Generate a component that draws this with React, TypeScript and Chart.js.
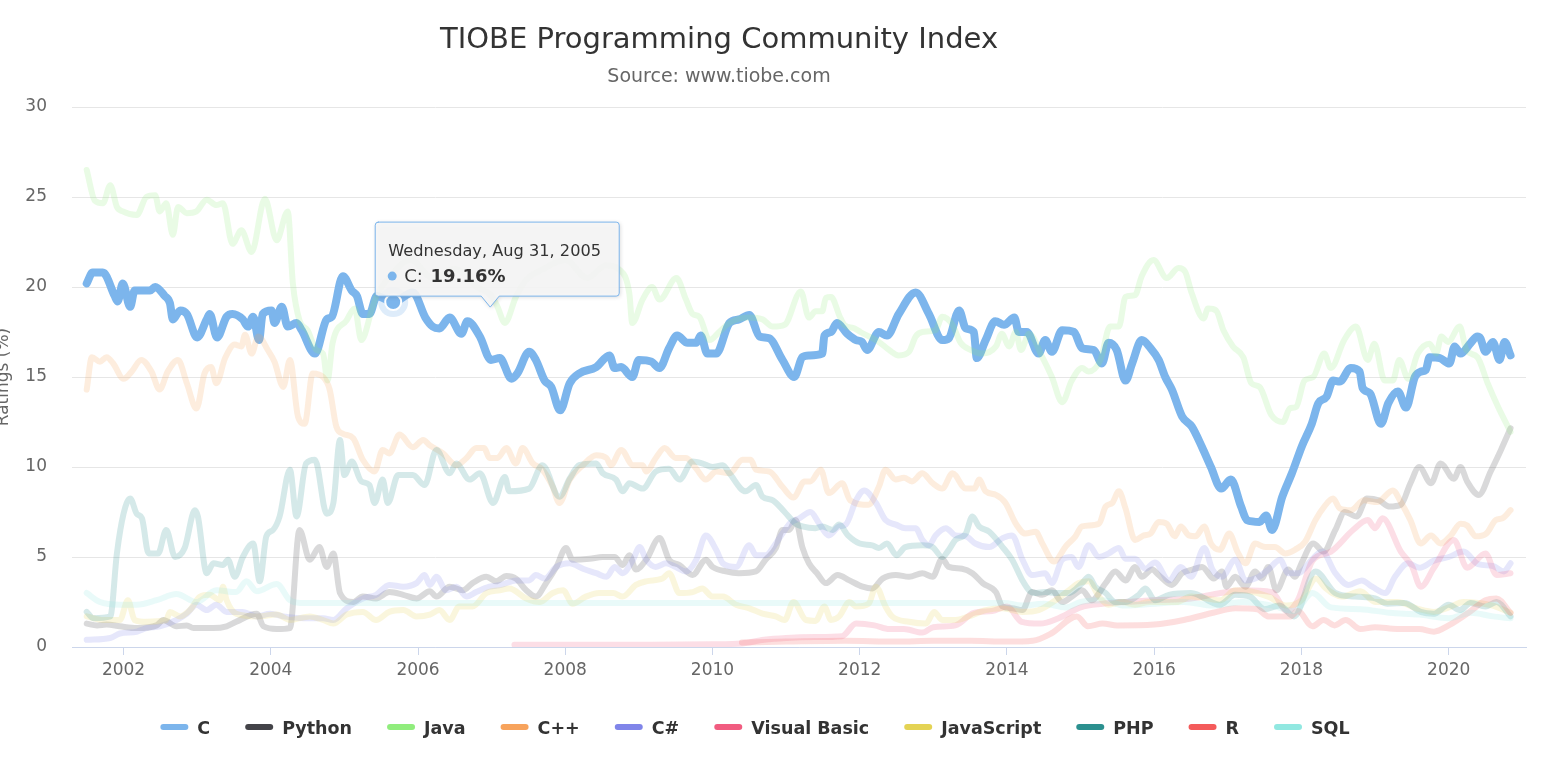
import React, { useEffect, useRef } from 'react';
import { Chart, registerables } from 'chart.js';

Chart.register(...registerables);

const FONT = '"DejaVu Sans", "Liberation Sans", sans-serif';

const chartTitle = 'TIOBE Programming Community Index';
const chartSubtitle = 'Source: www.tiobe.com';
const yAxisTitle = 'Ratings (%)';
const xTickYears = [2002, 2004, 2006, 2008, 2010, 2012, 2014, 2016, 2018, 2020];
const yMin = 0;
const yMax = 30;
const yStep = 5;

const seriesNames = ['C', 'Python', 'Java', 'C++', 'C#', 'Visual Basic', 'JavaScript', 'PHP', 'R', 'SQL'];
const seriesColors = ['#7cb5ec', '#434348', '#90ed7d', '#f7a35c', '#8085e9', '#f15c80', '#e4d354', '#2b908f', '#f45b5b', '#91e8e1'];

const tooltipDate = 'Wednesday, Aug 31, 2005';
const tooltipYear = 2005.663;
const tooltipValue = 19.16;

const cPoints: [number, number][] = [
  [2001.50, 20.2], [2001.58, 20.8], [2001.72, 20.8], [2001.88, 19.5], [2001.92, 19.2], [2001.99, 20.2],
  [2002.09, 18.9], [2002.15, 19.8], [2002.36, 19.8], [2002.43, 20.0], [2002.56, 19.5], [2002.63, 19.1],
  [2002.67, 18.2], [2002.77, 18.7], [2002.86, 18.5], [2003.00, 17.2], [2003.13, 18.2], [2003.17, 18.5],
  [2003.27, 17.2], [2003.40, 18.35], [2003.48, 18.5], [2003.62, 18.2], [2003.69, 17.8], [2003.76, 18.35],
  [2003.84, 17.05], [2003.89, 18.5], [2004.01, 18.7], [2004.05, 18.0], [2004.15, 18.9], [2004.23, 17.8],
  [2004.35, 18.0], [2004.42, 17.6], [2004.60, 16.3], [2004.76, 18.2], [2004.83, 18.35], [2004.98, 20.6],
  [2005.10, 19.8], [2005.17, 19.5], [2005.25, 18.5], [2005.34, 18.5], [2005.44, 19.5], [2005.663, 19.16],
  [2005.93, 19.7], [2006.10, 18.3], [2006.20, 17.8], [2006.29, 17.7], [2006.43, 18.3], [2006.59, 17.4],
  [2006.67, 18.1], [2006.84, 17.25], [2006.99, 15.95], [2007.11, 16.05], [2007.27, 14.9], [2007.35, 15.2],
  [2007.51, 16.4], [2007.60, 15.95], [2007.72, 14.8], [2007.81, 14.45], [2007.93, 13.15], [2008.06, 14.65],
  [2008.19, 15.2], [2008.42, 15.55], [2008.60, 16.2], [2008.67, 15.5], [2008.76, 15.55], [2008.91, 15.0],
  [2009.00, 15.95], [2009.17, 15.85], [2009.28, 15.5], [2009.41, 16.6], [2009.52, 17.3], [2009.66, 16.9],
  [2009.78, 16.9], [2009.84, 17.3], [2009.93, 16.3], [2010.05, 16.3], [2010.23, 18.0], [2010.36, 18.2],
  [2010.50, 18.45], [2010.64, 17.25], [2010.77, 17.15], [2010.95, 15.95], [2011.11, 15.0], [2011.22, 16.1],
  [2011.31, 16.2], [2011.49, 16.3], [2011.52, 17.3], [2011.61, 17.5], [2011.69, 18.0], [2011.83, 17.4],
  [2011.95, 17.05], [2012.03, 16.95], [2012.10, 16.5], [2012.26, 17.5], [2012.37, 17.3], [2012.53, 18.5],
  [2012.76, 19.7], [2012.94, 18.5], [2013.12, 17.05], [2013.21, 17.15], [2013.35, 18.7], [2013.44, 17.7],
  [2013.55, 17.5], [2013.59, 16.05], [2013.71, 17.05], [2013.84, 18.1], [2013.96, 17.9], [2014.10, 18.3],
  [2014.16, 17.5], [2014.27, 17.5], [2014.43, 16.3], [2014.52, 17.05], [2014.61, 16.4], [2014.75, 17.6],
  [2014.91, 17.5], [2015.02, 16.6], [2015.18, 16.5], [2015.29, 15.75], [2015.38, 16.9], [2015.49, 16.5],
  [2015.61, 14.8], [2015.70, 15.75], [2015.83, 17.05], [2015.95, 16.6], [2016.06, 15.95], [2016.15, 15.0],
  [2016.24, 14.3], [2016.38, 12.8], [2016.51, 12.25], [2016.65, 11.1], [2016.77, 10.0], [2016.91, 8.8],
  [2017.04, 9.3], [2017.18, 7.8], [2017.26, 7.05], [2017.43, 6.95], [2017.52, 7.3], [2017.60, 6.5],
  [2017.74, 8.35], [2017.87, 9.65], [2018.01, 11.2], [2018.14, 12.4], [2018.23, 13.55], [2018.34, 13.9],
  [2018.43, 14.8], [2018.52, 14.75], [2018.67, 15.5], [2018.79, 15.3], [2018.83, 14.4], [2018.93, 14.1],
  [2019.08, 12.4], [2019.18, 13.55], [2019.31, 14.2], [2019.42, 13.3], [2019.54, 15.0], [2019.62, 15.3],
  [2019.69, 15.4], [2019.74, 16.1], [2019.88, 16.05], [2020.01, 15.75], [2020.08, 16.7], [2020.16, 16.3],
  [2020.30, 16.9], [2020.39, 17.25], [2020.43, 17.15], [2020.50, 16.4], [2020.60, 16.95], [2020.69, 15.95],
  [2020.76, 16.95], [2020.84, 16.2],
];

const pythonPoints: [number, number][] = [
  [2001.50, 1.3], [2001.64, 1.2], [2001.77, 1.25], [2001.95, 1.15], [2002.18, 1.05], [2002.45, 1.2],
  [2002.54, 1.5], [2002.72, 1.15], [2002.86, 1.2], [2002.95, 1.05], [2003.22, 1.05], [2003.40, 1.15],
  [2003.53, 1.4], [2003.81, 1.85], [2003.90, 1.15], [2004.08, 1.0], [2004.26, 1.05], [2004.39, 6.5],
  [2004.53, 4.85], [2004.66, 5.55], [2004.76, 4.45], [2004.85, 5.2], [2004.94, 3.0], [2005.12, 2.5],
  [2005.25, 2.8], [2005.43, 2.7], [2005.61, 3.05], [2005.80, 2.9], [2005.98, 2.7], [2006.16, 3.1],
  [2006.25, 2.8], [2006.43, 3.35], [2006.61, 3.15], [2006.74, 3.55], [2006.93, 3.9], [2007.06, 3.65],
  [2007.20, 3.95], [2007.33, 3.8], [2007.47, 3.15], [2007.60, 2.8], [2007.74, 3.55], [2007.88, 4.45],
  [2008.01, 5.5], [2008.10, 4.85], [2008.33, 4.9], [2008.51, 5.0], [2008.67, 5.0], [2008.78, 4.55],
  [2008.87, 5.1], [2008.96, 4.3], [2009.10, 4.85], [2009.28, 6.05], [2009.41, 4.85], [2009.55, 4.55],
  [2009.73, 4.0], [2009.91, 4.85], [2010.00, 4.45], [2010.18, 4.2], [2010.36, 4.1], [2010.59, 4.2],
  [2010.72, 4.85], [2010.86, 5.5], [2010.95, 6.5], [2011.04, 6.5], [2011.13, 7.05], [2011.22, 5.55],
  [2011.31, 4.65], [2011.42, 4.1], [2011.54, 3.55], [2011.70, 4.0], [2011.86, 3.7], [2012.04, 3.35],
  [2012.17, 3.25], [2012.31, 3.8], [2012.49, 4.0], [2012.67, 3.9], [2012.85, 4.1], [2012.99, 3.9],
  [2013.12, 4.9], [2013.21, 4.45], [2013.39, 4.35], [2013.53, 4.1], [2013.67, 3.55], [2013.85, 3.05],
  [2013.94, 2.25], [2014.07, 2.15], [2014.21, 2.05], [2014.34, 3.05], [2014.48, 2.9], [2014.61, 3.15],
  [2014.75, 2.5], [2014.88, 2.8], [2015.02, 3.15], [2015.15, 2.6], [2015.34, 3.55], [2015.47, 4.2],
  [2015.61, 3.7], [2015.74, 4.45], [2015.83, 3.9], [2015.97, 4.3], [2016.06, 4.0], [2016.24, 3.45],
  [2016.38, 4.1], [2016.52, 4.3], [2016.65, 4.45], [2016.81, 3.8], [2016.92, 4.2], [2016.98, 3.35],
  [2017.10, 3.9], [2017.24, 3.35], [2017.37, 4.2], [2017.46, 3.8], [2017.55, 4.45], [2017.66, 3.15],
  [2017.82, 4.3], [2017.91, 3.9], [2018.00, 4.65], [2018.16, 5.75], [2018.30, 5.3], [2018.46, 6.5],
  [2018.59, 7.5], [2018.75, 7.25], [2018.89, 8.25], [2019.05, 8.15], [2019.20, 7.8], [2019.35, 7.9],
  [2019.48, 9.1], [2019.60, 10.0], [2019.76, 9.1], [2019.89, 10.2], [2020.07, 9.35], [2020.16, 10.0],
  [2020.25, 9.2], [2020.41, 8.45], [2020.57, 9.75], [2020.71, 10.95], [2020.84, 12.15],
];

const javaPoints: [number, number][] = [
  [2001.50, 26.5], [2001.61, 24.8], [2001.72, 24.65], [2001.82, 25.65], [2001.91, 24.45], [2001.99, 24.2],
  [2002.18, 24.0], [2002.31, 25.0], [2002.43, 25.1], [2002.49, 24.2], [2002.58, 24.65], [2002.67, 22.9],
  [2002.74, 24.45], [2002.86, 24.1], [2002.99, 24.2], [2003.13, 24.85], [2003.26, 24.55], [2003.35, 24.65],
  [2003.48, 22.4], [2003.60, 23.15], [2003.74, 21.95], [2003.92, 24.9], [2004.08, 22.6], [2004.23, 24.2],
  [2004.30, 20.2], [2004.39, 18.15], [2004.50, 17.6], [2004.62, 16.5], [2004.71, 16.3], [2004.77, 14.8],
  [2004.84, 16.9], [2005.03, 18.15], [2005.14, 18.8], [2005.23, 17.05], [2005.37, 18.7], [2005.43, 19.45],
  [2005.60, 20.5], [2005.90, 21.5], [2006.20, 20.5], [2006.50, 21.0], [2006.80, 20.0], [2007.00, 19.5],
  [2007.08, 18.9], [2007.18, 18.0], [2007.33, 19.45], [2007.47, 20.4], [2007.70, 21.0], [2008.00, 21.5],
  [2008.30, 20.5], [2008.55, 21.2], [2008.74, 20.95], [2008.87, 19.65], [2008.91, 18.0], [2009.05, 19.3],
  [2009.18, 20.0], [2009.28, 19.3], [2009.51, 20.5], [2009.64, 19.3], [2009.73, 18.5], [2009.82, 18.35],
  [2009.96, 17.05], [2010.09, 17.5], [2010.23, 18.0], [2010.50, 18.3], [2010.68, 18.2], [2010.82, 17.8],
  [2010.98, 17.9], [2011.20, 19.75], [2011.31, 18.3], [2011.40, 18.65], [2011.49, 18.65], [2011.54, 19.4],
  [2011.61, 19.45], [2011.73, 18.35], [2011.79, 17.9], [2011.93, 17.7], [2012.01, 17.5], [2012.26, 16.95],
  [2012.40, 16.5], [2012.53, 16.2], [2012.67, 16.4], [2012.76, 17.25], [2012.85, 17.5], [2013.03, 17.6],
  [2013.12, 18.35], [2013.26, 17.9], [2013.37, 16.9], [2013.51, 16.5], [2013.66, 16.3], [2013.85, 16.7],
  [2013.93, 17.4], [2014.03, 16.7], [2014.12, 17.5], [2014.19, 16.5], [2014.30, 17.4], [2014.48, 16.1],
  [2014.61, 15.0], [2014.75, 13.6], [2014.88, 14.8], [2015.02, 15.5], [2015.11, 15.3], [2015.27, 15.95],
  [2015.40, 17.8], [2015.52, 17.8], [2015.61, 19.45], [2015.74, 19.55], [2015.83, 20.6], [2015.99, 21.5],
  [2016.17, 20.5], [2016.33, 21.05], [2016.42, 20.85], [2016.51, 19.65], [2016.67, 18.25], [2016.73, 18.8],
  [2016.84, 18.7], [2016.94, 17.6], [2017.07, 16.7], [2017.21, 16.1], [2017.32, 14.65], [2017.43, 14.45],
  [2017.59, 12.9], [2017.75, 12.5], [2017.84, 13.25], [2017.93, 13.35], [2018.04, 14.8], [2018.16, 15.0],
  [2018.31, 16.3], [2018.40, 15.5], [2018.58, 17.05], [2018.74, 17.8], [2018.90, 15.95], [2018.99, 16.85],
  [2019.13, 14.8], [2019.24, 14.8], [2019.33, 15.95], [2019.45, 14.9], [2019.58, 16.3], [2019.74, 16.85],
  [2019.83, 16.3], [2019.90, 17.25], [2019.99, 16.95], [2020.15, 17.8], [2020.24, 16.5], [2020.39, 16.1],
  [2020.53, 14.65], [2020.67, 13.35], [2020.84, 11.95],
];

const cppPoints: [number, number][] = [
  [2001.50, 14.3], [2001.57, 16.1], [2001.68, 15.85], [2001.77, 16.1], [2001.86, 15.75], [2002.00, 14.9],
  [2002.11, 15.3], [2002.24, 15.95], [2002.38, 15.3], [2002.49, 14.3], [2002.60, 15.3], [2002.74, 15.95],
  [2002.86, 14.65], [2002.99, 13.25], [2003.10, 15.2], [2003.19, 15.55], [2003.26, 14.65], [2003.38, 16.05],
  [2003.51, 16.8], [2003.60, 16.7], [2003.65, 17.35], [2003.74, 16.3], [2003.83, 17.25], [2003.96, 16.5],
  [2004.05, 15.85], [2004.17, 14.45], [2004.26, 15.95], [2004.37, 12.8], [2004.46, 12.4], [2004.57, 15.2],
  [2004.71, 15.0], [2004.80, 14.3], [2004.89, 12.25], [2004.98, 11.85], [2005.12, 11.6], [2005.25, 10.4],
  [2005.41, 9.75], [2005.52, 10.95], [2005.61, 10.75], [2005.75, 11.8], [2005.93, 11.1], [2006.07, 11.5],
  [2006.16, 11.2], [2006.34, 10.75], [2006.52, 10.1], [2006.66, 10.5], [2006.79, 11.05], [2006.90, 11.05],
  [2006.97, 10.5], [2007.08, 10.5], [2007.20, 11.05], [2007.33, 10.2], [2007.42, 11.05], [2007.56, 10.2],
  [2007.69, 9.85], [2007.83, 8.9], [2007.92, 8.0], [2008.06, 9.3], [2008.24, 10.1], [2008.42, 10.65],
  [2008.56, 10.5], [2008.62, 10.1], [2008.76, 10.95], [2008.92, 10.1], [2009.05, 10.1], [2009.10, 9.75],
  [2009.23, 10.5], [2009.35, 11.05], [2009.50, 10.5], [2009.64, 10.5], [2009.78, 9.9], [2009.91, 9.3],
  [2010.05, 9.75], [2010.23, 9.65], [2010.41, 10.4], [2010.52, 10.4], [2010.59, 9.85], [2010.77, 9.75],
  [2010.95, 8.9], [2011.10, 8.3], [2011.25, 9.2], [2011.33, 9.2], [2011.47, 9.85], [2011.58, 8.55],
  [2011.76, 9.1], [2011.87, 8.15], [2012.12, 7.9], [2012.26, 8.9], [2012.35, 9.85], [2012.49, 9.3],
  [2012.60, 9.4], [2012.71, 9.2], [2012.85, 9.65], [2012.99, 9.1], [2013.12, 8.8], [2013.26, 9.65],
  [2013.44, 8.8], [2013.56, 8.8], [2013.62, 9.3], [2013.71, 8.65], [2013.85, 8.45], [2013.98, 8.0],
  [2014.12, 6.85], [2014.25, 6.3], [2014.39, 6.4], [2014.48, 5.75], [2014.64, 4.75], [2014.80, 5.6],
  [2014.93, 6.15], [2015.02, 6.7], [2015.25, 6.85], [2015.34, 7.8], [2015.43, 8.0], [2015.52, 8.65],
  [2015.61, 7.7], [2015.74, 5.95], [2015.86, 6.2], [2015.95, 6.3], [2016.06, 6.95], [2016.17, 6.85],
  [2016.28, 6.15], [2016.36, 6.7], [2016.47, 6.2], [2016.56, 6.15], [2016.68, 6.7], [2016.77, 5.75],
  [2016.89, 5.4], [2017.02, 6.3], [2017.13, 5.3], [2017.24, 4.65], [2017.37, 5.75], [2017.51, 5.55],
  [2017.64, 5.55], [2017.78, 5.2], [2017.91, 5.4], [2018.05, 5.85], [2018.19, 7.05], [2018.31, 7.8],
  [2018.43, 8.25], [2018.52, 7.7], [2018.67, 7.6], [2018.85, 8.15], [2019.03, 8.05], [2019.24, 8.7],
  [2019.35, 8.05], [2019.48, 7.05], [2019.62, 5.75], [2019.76, 6.2], [2019.89, 5.75], [2020.03, 6.2],
  [2020.16, 6.85], [2020.25, 6.75], [2020.37, 6.15], [2020.51, 6.3], [2020.64, 7.05], [2020.73, 7.15],
  [2020.84, 7.6],
];

const csharpPoints: [number, number][] = [
  [2001.50, 0.4], [2001.82, 0.5], [2001.95, 0.75], [2002.18, 0.85], [2002.31, 1.05], [2002.49, 1.15],
  [2002.72, 1.5], [2002.86, 1.85], [2002.99, 2.35], [2003.13, 2.05], [2003.26, 2.35], [2003.40, 1.95],
  [2003.62, 1.95], [2003.81, 1.7], [2003.99, 1.85], [2004.17, 1.7], [2004.44, 1.6], [2004.71, 1.6],
  [2004.85, 1.5], [2005.03, 2.15], [2005.25, 2.7], [2005.43, 2.9], [2005.61, 3.45], [2005.80, 3.35],
  [2005.98, 3.55], [2006.09, 4.0], [2006.16, 3.45], [2006.25, 3.9], [2006.38, 3.15], [2006.52, 3.35],
  [2006.66, 2.8], [2006.79, 3.05], [2006.97, 3.35], [2007.13, 3.45], [2007.33, 3.7], [2007.51, 3.7],
  [2007.60, 4.0], [2007.72, 3.8], [2007.88, 4.45], [2008.06, 4.65], [2008.24, 4.35], [2008.42, 4.1],
  [2008.56, 3.9], [2008.67, 4.45], [2008.78, 4.1], [2008.92, 4.85], [2009.01, 5.55], [2009.10, 4.85],
  [2009.23, 4.45], [2009.37, 4.65], [2009.50, 4.45], [2009.64, 4.2], [2009.78, 4.85], [2009.91, 6.2],
  [2010.05, 5.4], [2010.14, 4.65], [2010.32, 4.45], [2010.50, 5.65], [2010.59, 5.1], [2010.72, 5.1],
  [2010.86, 5.75], [2010.95, 6.3], [2011.06, 6.9], [2011.18, 7.15], [2011.33, 7.5], [2011.45, 6.85],
  [2011.58, 6.2], [2011.72, 6.7], [2011.81, 6.8], [2011.95, 8.15], [2012.06, 8.7], [2012.22, 8.0],
  [2012.35, 7.05], [2012.49, 6.8], [2012.62, 6.6], [2012.76, 6.6], [2012.85, 5.95], [2012.94, 5.65],
  [2013.03, 6.2], [2013.17, 6.6], [2013.30, 6.2], [2013.44, 6.15], [2013.57, 5.75], [2013.76, 5.55],
  [2013.94, 6.05], [2014.07, 6.2], [2014.21, 4.85], [2014.34, 4.0], [2014.52, 4.1], [2014.61, 3.55],
  [2014.75, 4.85], [2014.88, 5.0], [2014.97, 4.45], [2015.11, 5.65], [2015.25, 5.0], [2015.38, 5.2],
  [2015.52, 5.5], [2015.61, 4.9], [2015.74, 4.9], [2015.88, 4.35], [2016.01, 4.7], [2016.20, 3.7],
  [2016.36, 4.45], [2016.50, 3.9], [2016.68, 5.5], [2016.79, 4.3], [2016.92, 3.9], [2017.10, 4.85],
  [2017.24, 3.7], [2017.42, 3.9], [2017.55, 4.3], [2017.71, 4.85], [2017.82, 4.1], [2017.96, 4.1],
  [2018.14, 4.85], [2018.28, 5.3], [2018.46, 4.1], [2018.64, 3.45], [2018.82, 3.7], [2018.96, 3.35],
  [2019.14, 3.0], [2019.27, 3.9], [2019.45, 4.65], [2019.60, 4.4], [2019.80, 4.8], [2020.00, 5.0],
  [2020.20, 5.3], [2020.40, 4.6], [2020.60, 4.5], [2020.75, 4.2], [2020.84, 4.65],
];

const vbPoints: [number, number][] = [
  [2007.31, 0.12], [2008.00, 0.12], [2009.00, 0.13], [2010.00, 0.15], [2010.40, 0.2], [2010.70, 0.4],
  [2011.00, 0.5], [2011.40, 0.55], [2011.76, 0.6], [2011.95, 1.3], [2012.20, 1.2], [2012.40, 1.0],
  [2012.60, 1.0], [2012.85, 0.8], [2013.00, 1.1], [2013.30, 1.2], [2013.55, 1.9], [2013.80, 2.0],
  [2014.00, 2.25], [2014.20, 1.4], [2014.45, 1.3], [2014.70, 1.6], [2015.00, 2.2], [2015.30, 2.4],
  [2015.60, 2.5], [2016.00, 2.6], [2016.50, 2.7], [2016.90, 3.0], [2017.20, 3.15], [2017.60, 3.05],
  [2017.80, 2.0], [2017.95, 2.6], [2018.15, 4.8], [2018.40, 5.3], [2018.70, 6.5], [2018.90, 7.05],
  [2019.00, 6.6], [2019.10, 7.15], [2019.35, 5.3], [2019.50, 4.5], [2019.62, 3.35], [2019.80, 4.4],
  [2020.07, 5.95], [2020.25, 4.4], [2020.50, 5.2], [2020.65, 4.0], [2020.84, 4.1],
];

const jsPoints: [number, number][] = [
  [2001.50, 1.7], [2001.73, 1.5], [2001.95, 1.5], [2002.06, 2.6], [2002.15, 1.5], [2002.31, 1.4],
  [2002.58, 1.5], [2002.63, 1.95], [2002.77, 1.7], [2002.90, 2.05], [2003.04, 2.8], [2003.17, 2.9],
  [2003.31, 2.6], [2003.35, 3.35], [2003.40, 2.6], [2003.53, 1.85], [2003.81, 1.7], [2004.08, 1.8],
  [2004.26, 1.5], [2004.53, 1.7], [2004.71, 1.5], [2004.85, 1.3], [2005.03, 1.8], [2005.25, 1.95],
  [2005.43, 1.5], [2005.61, 1.95], [2005.80, 2.05], [2005.98, 1.7], [2006.16, 1.8], [2006.29, 2.05],
  [2006.43, 1.5], [2006.56, 2.25], [2006.74, 2.25], [2006.93, 3.0], [2007.11, 3.15], [2007.24, 3.25],
  [2007.47, 2.7], [2007.65, 2.5], [2007.83, 3.0], [2007.97, 3.15], [2008.10, 2.4], [2008.28, 2.8],
  [2008.46, 3.0], [2008.65, 3.0], [2008.78, 2.8], [2008.96, 3.45], [2009.10, 3.65], [2009.32, 3.8],
  [2009.41, 4.1], [2009.55, 3.0], [2009.73, 3.05], [2009.86, 3.25], [2010.00, 2.8], [2010.14, 2.8],
  [2010.32, 2.35], [2010.50, 2.15], [2010.68, 1.85], [2010.86, 1.7], [2010.98, 1.5], [2011.10, 2.5],
  [2011.27, 1.5], [2011.40, 1.45], [2011.52, 2.25], [2011.61, 1.5], [2011.72, 1.7], [2011.86, 2.5],
  [2011.95, 2.25], [2012.12, 2.4], [2012.22, 3.35], [2012.35, 2.25], [2012.44, 1.7], [2012.67, 1.4],
  [2012.90, 1.3], [2013.01, 1.95], [2013.12, 1.5], [2013.30, 1.5], [2013.48, 1.7], [2013.71, 2.05],
  [2013.94, 2.15], [2014.21, 1.95], [2014.43, 2.05], [2014.66, 2.6], [2014.84, 3.15], [2014.97, 3.55],
  [2015.11, 3.65], [2015.25, 2.8], [2015.38, 2.35], [2015.56, 2.5], [2015.74, 2.35], [2015.93, 2.5],
  [2016.30, 2.5], [2016.50, 2.8], [2016.90, 2.6], [2017.10, 3.15], [2017.30, 3.1], [2017.55, 2.8],
  [2017.80, 2.3], [2018.00, 2.6], [2018.20, 3.8], [2018.32, 3.3], [2018.55, 2.8], [2018.80, 3.1],
  [2019.00, 2.5], [2019.30, 2.5], [2019.60, 2.1], [2019.80, 1.95], [2020.00, 2.2], [2020.20, 2.5],
  [2020.40, 2.45], [2020.60, 2.3], [2020.84, 1.9],
];

const phpPoints: [number, number][] = [
  [2001.50, 1.95], [2001.59, 1.6], [2001.82, 1.7], [2001.91, 5.2], [2002.00, 7.4], [2002.09, 8.25],
  [2002.18, 7.4], [2002.25, 7.15], [2002.34, 5.2], [2002.47, 5.2], [2002.58, 6.5], [2002.70, 5.0],
  [2002.83, 5.5], [2002.97, 7.6], [2003.01, 7.25], [2003.13, 4.1], [2003.22, 4.65], [2003.35, 4.55],
  [2003.42, 4.85], [2003.51, 3.9], [2003.62, 5.0], [2003.76, 5.75], [2003.85, 3.65], [2003.94, 6.15],
  [2004.03, 6.5], [2004.12, 7.25], [2004.26, 9.85], [2004.35, 7.25], [2004.48, 10.2], [2004.60, 10.4],
  [2004.76, 7.4], [2004.85, 8.0], [2004.94, 11.5], [2005.00, 9.55], [2005.10, 10.3], [2005.23, 9.2],
  [2005.34, 9.0], [2005.41, 8.0], [2005.52, 9.3], [2005.59, 8.0], [2005.73, 9.55], [2005.93, 9.55],
  [2006.09, 9.0], [2006.25, 10.95], [2006.43, 9.65], [2006.52, 10.2], [2006.70, 9.3], [2006.84, 9.65],
  [2007.02, 8.0], [2007.18, 9.45], [2007.24, 8.65], [2007.51, 8.8], [2007.69, 10.1], [2007.92, 8.35],
  [2008.06, 9.35], [2008.19, 10.1], [2008.42, 10.2], [2008.51, 9.65], [2008.69, 9.3], [2008.78, 8.65],
  [2008.87, 9.1], [2009.05, 8.8], [2009.23, 9.75], [2009.41, 9.9], [2009.55, 9.3], [2009.73, 10.3],
  [2009.86, 10.2], [2010.00, 10.0], [2010.14, 10.1], [2010.23, 9.65], [2010.45, 8.65], [2010.59, 9.0],
  [2010.68, 8.35], [2010.82, 8.15], [2010.98, 7.5], [2011.13, 6.85], [2011.22, 6.7], [2011.40, 6.6],
  [2011.49, 6.7], [2011.63, 6.5], [2011.72, 6.8], [2011.84, 6.2], [2012.00, 5.75], [2012.17, 5.65],
  [2012.26, 5.5], [2012.37, 5.75], [2012.50, 5.1], [2012.62, 5.55], [2012.85, 5.65], [2012.99, 5.55],
  [2013.12, 5.0], [2013.21, 5.4], [2013.30, 5.95], [2013.44, 6.3], [2013.53, 7.25], [2013.62, 6.7],
  [2013.76, 6.4], [2013.94, 5.55], [2014.07, 4.85], [2014.21, 3.7], [2014.30, 3.15], [2014.39, 3.0],
  [2014.52, 3.05], [2014.66, 3.0], [2014.84, 3.0], [2015.02, 3.55], [2015.11, 3.9], [2015.20, 3.35],
  [2015.34, 3.0], [2015.47, 2.5], [2015.61, 2.5], [2015.79, 2.9], [2015.88, 3.25], [2016.01, 2.6],
  [2016.20, 2.9], [2016.50, 3.0], [2016.89, 2.35], [2017.10, 2.9], [2017.30, 2.8], [2017.50, 2.1],
  [2017.70, 2.3], [2017.90, 1.7], [2018.19, 4.2], [2018.46, 3.0], [2018.73, 2.8], [2019.00, 2.7],
  [2019.17, 2.4], [2019.40, 2.45], [2019.62, 1.95], [2019.80, 1.85], [2020.00, 2.35], [2020.15, 2.05],
  [2020.30, 2.45], [2020.50, 2.25], [2020.65, 2.5], [2020.84, 1.7],
];

const rPoints: [number, number][] = [
  [2010.40, 0.25], [2011.00, 0.3], [2011.80, 0.35], [2012.50, 0.3], [2013.00, 0.35], [2013.50, 0.35],
  [2014.00, 0.3], [2014.35, 0.35], [2014.60, 0.75], [2014.95, 1.7], [2015.10, 1.15], [2015.30, 1.3],
  [2015.50, 1.2], [2016.00, 1.25], [2016.40, 1.5], [2016.80, 1.9], [2017.10, 2.15], [2017.40, 2.1],
  [2017.55, 1.7], [2017.85, 1.7], [2017.95, 2.0], [2018.15, 1.15], [2018.30, 1.5], [2018.45, 1.2],
  [2018.60, 1.5], [2018.80, 1.0], [2019.00, 1.1], [2019.30, 1.0], [2019.60, 1.0], [2019.80, 0.85],
  [2020.00, 1.2], [2020.30, 2.0], [2020.50, 2.6], [2020.65, 2.7], [2020.84, 1.9],
];

const sqlPoints: [number, number][] = [
  [2001.50, 3.0], [2001.68, 2.5], [2001.95, 2.35], [2002.18, 2.35], [2002.45, 2.6], [2002.72, 2.95],
  [2002.99, 2.5], [2003.26, 3.15], [2003.53, 3.05], [2003.67, 3.65], [2003.81, 3.1], [2004.08, 3.5],
  [2004.26, 2.6], [2004.40, 2.45], [2013.96, 2.45], [2014.20, 2.3], [2014.50, 2.4], [2014.80, 2.2],
  [2015.00, 2.5], [2015.30, 2.6], [2015.60, 2.3], [2016.00, 2.4], [2016.40, 2.5], [2016.80, 2.3],
  [2017.20, 2.5], [2017.60, 2.3], [2017.90, 2.0], [2018.15, 3.0], [2018.40, 2.2], [2018.80, 2.1],
  [2019.20, 1.9], [2019.60, 1.8], [2020.00, 1.6], [2020.30, 1.9], [2020.60, 1.7], [2020.84, 1.6],
];

const seriesPoints = [cPoints, pythonPoints, javaPoints, cppPoints, csharpPoints, vbPoints, jsPoints, phpPoints, rPoints, sqlPoints];

function fade(hex: string, alpha: number) {
  const n = parseInt(hex.slice(1), 16);
  return `rgba(${(n >> 16) & 255}, ${(n >> 8) & 255}, ${n & 255}, ${alpha})`;
}

const overlayPlugin = {
  id: 'overlay',
  afterDraw(chart: any) {
    const ctx = chart.ctx as CanvasRenderingContext2D;
    const area = chart.chartArea;
    const xs = chart.scales.x;
    const ys = chart.scales.y;
    ctx.save();

    // Title & subtitle
    ctx.textAlign = 'center';
    ctx.textBaseline = 'alphabetic';
    ctx.fillStyle = '#333333';
    ctx.font = `29px ${FONT}`;
    ctx.fillText(chartTitle, 719, 48);
    ctx.fillStyle = '#666666';
    ctx.font = `19px ${FONT}`;
    ctx.fillText(chartSubtitle, 719, 82);

    // Y axis title (partly clipped at the left edge)
    ctx.save();
    ctx.translate(8, (area.top + area.bottom) / 2);
    ctx.rotate(-Math.PI / 2);
    ctx.font = `17px ${FONT}`;
    ctx.fillStyle = '#666666';
    ctx.textAlign = 'center';
    ctx.fillText(yAxisTitle, 0, 0);
    ctx.restore();

    // Legend
    ctx.font = `bold 17.5px ${FONT}`;
    const symW = 28;
    const gap = 9;
    const spacing = 35;
    const widths = seriesNames.map((n) => symW + gap + ctx.measureText(n).width);
    const total = widths.reduce((a, b) => a + b, 0) + spacing * (seriesNames.length - 1);
    let lx = 755 - total / 2;
    const ly = 727;
    seriesNames.forEach((name, i) => {
      ctx.strokeStyle = seriesColors[i];
      ctx.lineWidth = 6;
      ctx.lineCap = 'round';
      ctx.beginPath();
      ctx.moveTo(lx + 3, ly);
      ctx.lineTo(lx + symW - 3, ly);
      ctx.stroke();
      ctx.fillStyle = '#333333';
      ctx.textAlign = 'left';
      ctx.fillText(name, lx + symW + gap, ly + 6.5);
      lx += widths[i] + spacing;
    });

    // Hover marker with halo
    const px = xs.getPixelForValue(tooltipYear);
    const py = ys.getPixelForValue(tooltipValue);
    ctx.fillStyle = 'rgba(124, 181, 236, 0.25)';
    ctx.beginPath();
    ctx.arc(px, py, 15, 0, Math.PI * 2);
    ctx.fill();
    ctx.fillStyle = seriesColors[0];
    ctx.strokeStyle = '#ffffff';
    ctx.lineWidth = 2;
    ctx.beginPath();
    ctx.arc(px, py, 8, 0, Math.PI * 2);
    ctx.fill();
    ctx.stroke();

    // Tooltip
    const bx = px - 18;
    const by = py - 80;
    const bw = 244;
    const bh = 74;
    const r = 3;
    const cx = px + 97;
    const tipY = py + 5;
    ctx.beginPath();
    ctx.moveTo(bx + r, by);
    ctx.lineTo(bx + bw - r, by);
    ctx.arcTo(bx + bw, by, bx + bw, by + r, r);
    ctx.lineTo(bx + bw, by + bh - r);
    ctx.arcTo(bx + bw, by + bh, bx + bw - r, by + bh, r);
    ctx.lineTo(cx + 9, by + bh);
    ctx.lineTo(cx, tipY);
    ctx.lineTo(cx - 9, by + bh);
    ctx.lineTo(bx + r, by + bh);
    ctx.arcTo(bx, by + bh, bx, by + bh - r, r);
    ctx.lineTo(bx, by + r);
    ctx.arcTo(bx, by, bx + r, by, r);
    ctx.closePath();
    ctx.save();
    ctx.shadowColor = 'rgba(0, 0, 0, 0.18)';
    ctx.shadowBlur = 4;
    ctx.shadowOffsetX = 1;
    ctx.shadowOffsetY = 1;
    ctx.fillStyle = 'rgba(247, 247, 247, 0.9)';
    ctx.fill();
    ctx.restore();
    ctx.strokeStyle = seriesColors[0];
    ctx.lineWidth = 1;
    ctx.stroke();

    ctx.textAlign = 'left';
    ctx.fillStyle = '#333333';
    ctx.font = `16.2px ${FONT}`;
    ctx.fillText(tooltipDate, bx + 13, py - 46);
    ctx.fillStyle = seriesColors[0];
    ctx.beginPath();
    ctx.arc(bx + 17, py - 26, 4.5, 0, Math.PI * 2);
    ctx.fill();
    ctx.fillStyle = '#333333';
    ctx.font = `18px ${FONT}`;
    const label = `${seriesNames[0]}: `;
    ctx.fillText(label, bx + 29, py - 20);
    const lw = ctx.measureText(label).width;
    ctx.font = `bold 18px ${FONT}`;
    ctx.fillText(`${tooltipValue.toFixed(2)}%`, bx + 31 + lw, py - 20);

    ctx.restore();
  },
};

export default function App() {
  const ref = useRef<HTMLCanvasElement>(null);

  useEffect(() => {
    document.body.style.margin = '0';
    const canvas = ref.current;
    if (!canvas) return;

    const datasets = seriesNames.map((name, i) => ({
      label: name,
      data: seriesPoints[i].map(([x, y]) => ({ x, y })),
      borderColor: i === 0 ? seriesColors[i] : fade(seriesColors[i], 0.2),
      backgroundColor: seriesColors[i],
      borderWidth: i === 0 ? 8 : 6,
      pointRadius: 0,
      pointHoverRadius: 0,
      fill: false,
      cubicInterpolationMode: 'monotone' as const,
      borderCapStyle: 'round' as const,
      borderJoinStyle: 'round' as const,
      order: seriesNames.length - i,
    }));

    const chart = new Chart(canvas, {
      type: 'line',
      data: { datasets },
      options: {
        animation: false,
        responsive: false,
        events: [],
        layout: { padding: { top: 107, right: 40, bottom: 83, left: 0 } },
        plugins: {
          legend: { display: false },
          title: { display: false },
          tooltip: { enabled: false },
        },
        scales: {
          x: {
            type: 'linear',
            min: 2001.3,
            max: 2021.05,
            afterBuildTicks: (scale: any) => {
              scale.ticks = xTickYears.map((v) => ({ value: v }));
            },
            afterFit: (scale: any) => {
              scale.height = 40;
            },
            ticks: {
              autoSkip: false,
              maxRotation: 0,
              padding: 5,
              color: '#666666',
              font: { family: FONT, size: 17 },
              callback: (v: any) => String(v),
            },
            grid: {
              drawOnChartArea: false,
              drawTicks: true,
              tickLength: 8,
              color: '#ccd6eb',
              tickColor: '#ccd6eb',
            },
            border: { display: true, color: '#ccd6eb', width: 1 },
          },
          y: {
            min: yMin,
            max: yMax,
            afterFit: (scale: any) => {
              scale.width = 72;
            },
            ticks: {
              stepSize: yStep,
              padding: 25,
              color: '#666666',
              font: { family: FONT, size: 17 },
            },
            grid: { color: '#e6e6e6', drawTicks: false, lineWidth: 1 },
            border: { display: false },
          },
        },
      },
      plugins: [overlayPlugin],
    });

    return () => {
      chart.destroy();
    };
  }, []);

  return (
    <canvas
      ref={ref}
      width={1566}
      height={770}
      style={{ display: 'block', width: '1566px', height: '770px' }}
    />
  );
}
